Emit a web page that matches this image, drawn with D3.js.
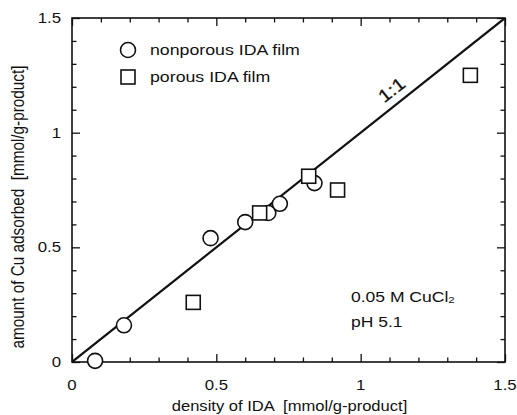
<!DOCTYPE html>
<html>
<head>
<meta charset="utf-8">
<script src="https://cdn.jsdelivr.net/npm/d3@7"></script>
<style>
  body { margin: 0; background: #fff; }
  svg { display: block; font-family: "Liberation Sans", Arial, sans-serif; }
  text { fill: #111; }
</style>
</head>
<body>
<svg width="517" height="415"></svg>
<script>
// data
var nonporousX = [0.08, 0.18, 0.48, 0.60, 0.68, 0.72, 0.84];
var nonporousY = [0.005, 0.16, 0.54, 0.61, 0.65, 0.69, 0.78];
var porousX = [0.42, 0.65, 0.82, 0.92, 1.38];
var porousY = [0.26, 0.65, 0.81, 0.75, 1.25];
var tickLabels = ["0", "0.5", "1", "1.5"];
var majorTicks = [0, 0.5, 1, 1.5];

var svg = d3.select("svg");
var pL = 72, pR = 505, pT = 18, pB = 362;
var stretch = 1.2; // the original glyphs are drawn wider than tall

var x = d3.scaleLinear().domain([0, 1.5]).range([pL, pR]);
var y = d3.scaleLinear().domain([0, 1.5]).range([pB, pT]);

var minor = d3.range(0, 1.51, 0.1).map(function(d) { return +d.toFixed(1); });
function isMajor(d) { return Math.abs(d * 2 - Math.round(d * 2)) < 1e-6; }

// text with horizontal stretch
function label(px, py, size, anchor) {
  return svg.append("text")
    .attr("transform", "translate(" + px + "," + py + ") scale(" + stretch + ",1)")
    .attr("font-size", size)
    .attr("text-anchor", anchor || "start");
}

// ticks, all pointing inward
function tickSide(axis, tx, ty, attr, sign) {
  svg.append("g").attr("transform", "translate(" + tx + "," + ty + ")")
    .call(axis.tickValues(minor).tickSizeInner(0).tickSizeOuter(0).tickFormat(""))
    .call(function(g) { g.select(".domain").remove(); })
    .selectAll(".tick line")
    .attr(attr, function(d) { return sign * (isMajor(d) ? 8 : 4.5); })
    .attr("stroke", "#111").attr("stroke-width", 1.3);
}
tickSide(d3.axisBottom(x), 0, pB, "y2", -1);
tickSide(d3.axisTop(x), 0, pT, "y2", 1);
tickSide(d3.axisLeft(y), pL, 0, "x2", 1);
tickSide(d3.axisRight(y), pR, 0, "x2", -1);

// frame
svg.append("rect")
  .attr("x", pL).attr("y", pT)
  .attr("width", pR - pL).attr("height", pB - pT)
  .attr("fill", "none").attr("stroke", "#111").attr("stroke-width", 1.6);

// tick labels
majorTicks.forEach(function(d, i) {
  label(x(d), 390, 14, "middle").text(tickLabels[i]);
  label(61, y(d) + 5, 14, "end").text(tickLabels[i]);
});

// axis titles
label((pL + pR) / 2 + 1, 411, 13.8, "middle")
  .attr("xml:space", "preserve")
  .text("density of IDA  [mmol/g-product]");

svg.append("text")
  .attr("transform", "translate(24," + 207 + ") rotate(-90) scale(1," + stretch + ")")
  .attr("text-anchor", "middle")
  .attr("font-size", 15.3)
  .attr("xml:space", "preserve")
  .text("amount of Cu adsorbed  [mmol/g-product]");

// 1:1 line
svg.append("clipPath").attr("id", "plot").append("rect")
  .attr("x", pL).attr("y", pT).attr("width", pR - pL).attr("height", pB - pT);
svg.append("line")
  .attr("clip-path", "url(#plot)")
  .attr("x1", x(0)).attr("y1", y(0)).attr("x2", x(1.5)).attr("y2", y(1.5))
  .attr("stroke", "#111").attr("stroke-width", 2.2);

var angle = Math.atan2(y(0) - y(1.5), x(1.5) - x(0)) * 180 / Math.PI;
svg.append("text")
  .attr("transform", "translate(" + (x(1.1) + 2) + "," + (y(1.1) - 20) + ") rotate(" + (-angle) + ") scale(1.15,1)")
  .attr("text-anchor", "middle")
  .attr("dy", "0.35em")
  .attr("font-size", 18)
  .attr("stroke", "#111").attr("stroke-width", 0.3)
  .text("1:1");

// points
var nonporous = nonporousX.map(function(v, i) { return [v, nonporousY[i]]; });
var porous = porousX.map(function(v, i) { return [v, porousY[i]]; });

svg.append("g").selectAll("circle").data(nonporous).enter().append("circle")
  .attr("cx", function(d) { return x(d[0]); })
  .attr("cy", function(d) { return y(d[1]); })
  .attr("r", 7.5)
  .attr("fill", "#fff").attr("stroke", "#111").attr("stroke-width", 1.6);

var sq = 14;
svg.append("g").selectAll("rect").data(porous).enter().append("rect")
  .attr("x", function(d) { return x(d[0]) - sq / 2; })
  .attr("y", function(d) { return y(d[1]) - sq / 2; })
  .attr("width", sq).attr("height", sq)
  .attr("fill", "#fff").attr("stroke", "#111").attr("stroke-width", 1.6);

// legend
svg.append("circle").attr("cx", 128).attr("cy", 50).attr("r", 7.5)
  .attr("fill", "#fff").attr("stroke", "#111").attr("stroke-width", 1.6);
svg.append("rect").attr("x", 121).attr("y", 70).attr("width", sq).attr("height", sq)
  .attr("fill", "#fff").attr("stroke", "#111").attr("stroke-width", 1.6);
label(150, 55, 14.8).text("nonporous IDA film");
label(150, 82, 14.8).text("porous IDA film");

// conditions
var cond = label(351, 302, 14.6);
cond.append("tspan").text("0.05 M CuCl");
cond.append("tspan").attr("font-size", 9.5).attr("dy", 1).text("2");
label(351, 327, 14.6).text("pH 5.1");
</script>
</body>
</html>
